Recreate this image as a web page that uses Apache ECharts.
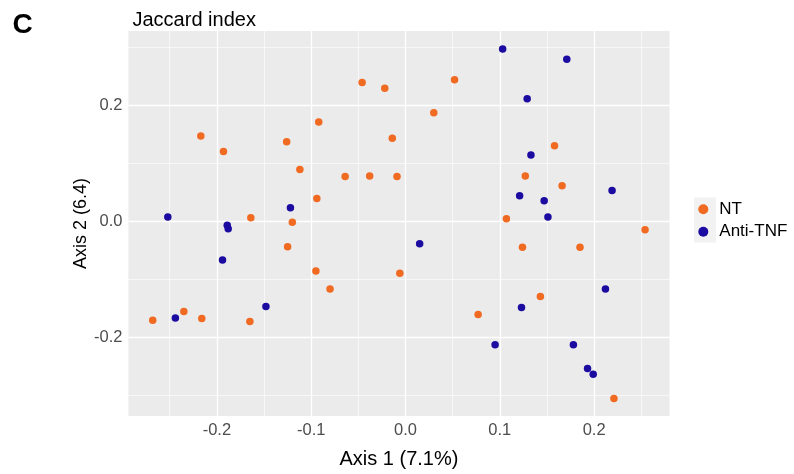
<!DOCTYPE html>
<html>
<head>
<meta charset="utf-8">
<script src="https://cdn.jsdelivr.net/npm/echarts@6/dist/echarts.min.js"></script>
<style>
  html, body { margin: 0; padding: 0; background: #ffffff; }
  #chart { width: 794px; height: 474px; }
</style>
</head>
<body>
<div id="chart"></div>
<script>
// PCoA ordination (Jaccard index), one point per sample: [Axis 1, Axis 2]
const ntPoints = [
  [-0.046, 0.239], [-0.022, 0.229], [0.052, 0.244], [0.030, 0.187], [-0.092, 0.171],
  [-0.217, 0.147], [-0.126, 0.137], [-0.014, 0.143], [-0.193, 0.120], [0.158, 0.130],
  [-0.112, 0.089], [-0.064, 0.077], [-0.038, 0.078], [-0.009, 0.077], [0.127, 0.078],
  [0.166, 0.061], [-0.094, 0.039], [-0.164, 0.006], [-0.120, -0.002], [0.107, 0.004],
  [0.254, -0.015], [-0.125, -0.044], [0.124, -0.045], [0.185, -0.045], [-0.006, -0.090],
  [-0.095, -0.086], [-0.080, -0.117], [0.143, -0.130], [-0.235, -0.156], [-0.268, -0.171],
  [-0.216, -0.168], [-0.165, -0.173], [0.077, -0.161], [0.221, -0.306]
];
const antiTnfPoints = [
  [0.103, 0.297], [0.171, 0.279], [0.129, 0.211], [0.133, 0.114], [0.121, 0.044],
  [0.147, 0.035], [0.151, 0.007], [0.219, 0.053], [-0.252, 0.007], [-0.122, 0.023],
  [-0.189, -0.007], [-0.188, -0.013], [-0.194, -0.067], [-0.148, -0.147], [-0.244, -0.167],
  [0.015, -0.039], [0.212, -0.117], [0.123, -0.149], [0.095, -0.213], [0.178, -0.213],
  [0.193, -0.254], [0.199, -0.264]
];
const seriesNames = ['NT', 'Anti-TNF'];

// axis breaks
const xTicks = [-0.2, -0.1, 0.0, 0.1, 0.2];
const xMinorTicks = [-0.25, -0.15, -0.05, 0.05, 0.15, 0.25];
const yTicks = [-0.2, 0.0, 0.2];
const yMinorTicks = [-0.3, -0.1, 0.1, 0.3];
const xRange = [-0.2938, 0.2799];
const yRange = [-0.336, 0.3279];

const colors = { nt: '#F06A22', anti: '#1C0BA0' };
const font = 'Liberation Sans, Arial, sans-serif';

const chart = echarts.init(document.getElementById('chart'), null, { renderer: 'canvas' });

// white panel grid lines (major thicker, minor thinner)
const gridLines = [].concat(
  xMinorTicks.map(v => ({ xAxis: v, lineStyle: { width: 0.6 } })),
  yMinorTicks.map(v => ({ yAxis: v, lineStyle: { width: 0.6 } })),
  xTicks.map(v => ({ xAxis: v, lineStyle: { width: 1.3 } })),
  yTicks.map(v => ({ yAxis: v, lineStyle: { width: 1.3 } }))
);

const fmt = v => Number(v).toFixed(1);

chart.setOption({
  animation: false,
  backgroundColor: '#ffffff',
  textStyle: { fontFamily: font },
  grid: {
    left: 128.4, right: 124.5, top: 31, bottom: 57.3,
    show: true, backgroundColor: '#EBEBEB', borderWidth: 0
  },
  xAxis: {
    type: 'value', min: xRange[0], max: xRange[1],
    name: 'Axis 1 (7.1%)', nameLocation: 'middle', nameGap: 33, nameMoveOverlap: false,
    nameTextStyle: { fontSize: 20, color: '#000', fontFamily: font },
    axisLine: { show: false },
    splitLine: { show: false },
    axisTick: { show: true, length: 3, customValues: xTicks, lineStyle: { color: '#333', width: 1 } },
    axisLabel: { customValues: xTicks, formatter: fmt, fontSize: 16.5, color: '#4D4D4D', margin: 6, fontFamily: font }
  },
  yAxis: {
    type: 'value', min: yRange[0], max: yRange[1],
    name: 'Axis 2 (6.4)', nameLocation: 'middle', nameGap: 38, nameRotate: 90, nameMoveOverlap: false,
    nameTextStyle: { fontSize: 18, color: '#000', fontFamily: font },
    axisLine: { show: false },
    splitLine: { show: false },
    axisTick: { show: true, length: 3, customValues: yTicks, lineStyle: { color: '#333', width: 1 } },
    axisLabel: { customValues: yTicks, formatter: fmt, fontSize: 16.5, color: '#4D4D4D', margin: 6, fontFamily: font }
  },
  legend: {
    data: seriesNames,
    orient: 'vertical', left: 698.3, top: 200.3, padding: 0,
    icon: 'circle', itemWidth: 10, itemHeight: 10, itemGap: 4.5,
    textStyle: { fontSize: 17, color: '#000', lineHeight: 18, padding: [0, 0, 0, 6], fontFamily: font },
    selectedMode: false
  },
  graphic: [
    { type: 'rect', z: 0, shape: { x: 694, y: 197.5, width: 22, height: 45 }, style: { fill: '#F2F2F2' } },
    { type: 'text', left: 12.5, top: 11, style: { text: 'C', font: 'bold 28px ' + font, fill: '#000' } },
    { type: 'text', left: 132.5, top: 10, style: { text: 'Jaccard index', font: '20px ' + font, fill: '#000' } }
  ],
  series: [
    {
      type: 'scatter', name: 'gridlines', data: [], silent: true, z: 1,
      markLine: {
        z: 1, silent: true, symbol: ['none', 'none'], label: { show: false },
        lineStyle: { color: '#ffffff', type: 'solid' },
        emphasis: { disabled: true },
        data: gridLines
      }
    },
    {
      type: 'scatter', name: seriesNames[0], data: ntPoints, z: 3,
      symbolSize: 7.5, itemStyle: { color: colors.nt, opacity: 1 }
    },
    {
      type: 'scatter', name: seriesNames[1], data: antiTnfPoints, z: 3,
      symbolSize: 7.5, itemStyle: { color: colors.anti, opacity: 1 }
    }
  ]
});
</script>
</body>
</html>
